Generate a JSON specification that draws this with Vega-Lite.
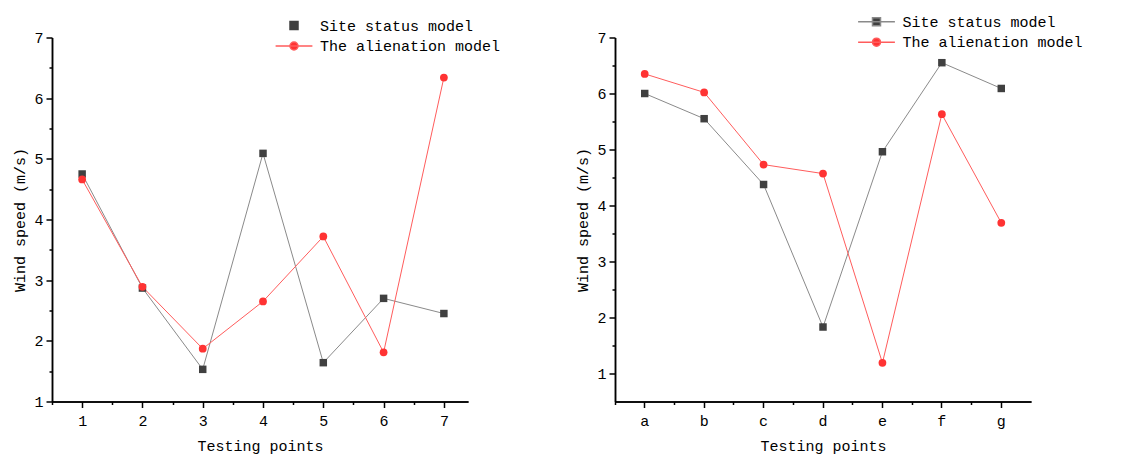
{
  "$schema": "https://vega.github.io/schema/vega-lite/v6.json",
  "autosize": {"type": "pad"},
  "padding": {"left": 12, "top": 13.5, "right": 5, "bottom": 2},
  "background": "white",
  "datasets": {
    "left": [
      {"point": 1, "series": "Site status model", "speed": 4.75},
      {"point": 2, "series": "Site status model", "speed": 2.87},
      {"point": 3, "series": "Site status model", "speed": 1.53},
      {"point": 4, "series": "Site status model", "speed": 5.09},
      {"point": 5, "series": "Site status model", "speed": 1.64},
      {"point": 6, "series": "Site status model", "speed": 2.70},
      {"point": 7, "series": "Site status model", "speed": 2.45},
      {"point": 1, "series": "The alienation model", "speed": 4.66},
      {"point": 2, "series": "The alienation model", "speed": 2.89},
      {"point": 3, "series": "The alienation model", "speed": 1.87},
      {"point": 4, "series": "The alienation model", "speed": 2.65},
      {"point": 5, "series": "The alienation model", "speed": 3.72},
      {"point": 6, "series": "The alienation model", "speed": 1.81},
      {"point": 7, "series": "The alienation model", "speed": 6.34}
    ],
    "right": [
      {"point": "a", "series": "Site status model", "speed": 6.0},
      {"point": "b", "series": "Site status model", "speed": 5.55},
      {"point": "c", "series": "Site status model", "speed": 4.375},
      {"point": "d", "series": "Site status model", "speed": 1.83},
      {"point": "e", "series": "Site status model", "speed": 4.96},
      {"point": "f", "series": "Site status model", "speed": 6.55},
      {"point": "g", "series": "Site status model", "speed": 6.09},
      {"point": "a", "series": "The alienation model", "speed": 6.35},
      {"point": "b", "series": "The alienation model", "speed": 6.02},
      {"point": "c", "series": "The alienation model", "speed": 4.73},
      {"point": "d", "series": "The alienation model", "speed": 4.57},
      {"point": "e", "series": "The alienation model", "speed": 1.19},
      {"point": "f", "series": "The alienation model", "speed": 5.63},
      {"point": "g", "series": "The alienation model", "speed": 3.69}
    ],
    "none": []
  },
  "config": {
    "font": "Liberation Mono",
    "view": {"stroke": null},
    "axis": {
      "grid": false,
      "domainColor": "black",
      "domainWidth": 1.5,
      "tickColor": "black",
      "tickWidth": 1.5,
      "labelColor": "black",
      "labelFont": "Liberation Mono",
      "labelFontSize": 15,
      "titleFont": "Liberation Mono",
      "titleFontSize": 15,
      "titleFontWeight": "normal",
      "titleColor": "black"
    },
    "legend": {
      "labelFont": "Liberation Mono",
      "labelFontSize": 15,
      "labelColor": "black",
      "labelLimit": 400,
      "title": null,
      "padding": 0
    }
  },
  "bounds": "flush",
  "spacing": 147,
  "hconcat": [
    {
      "width": 416,
      "height": 364,
      "data": {"name": "left"},
      "resolve": {"axis": {"x": "independent", "y": "independent"}},
      "layer": [
        {
          "transform": [{"filter": "datum.series == 'Site status model'"}],
          "mark": {"type": "line", "color": "#8a8a8a", "strokeWidth": 1},
          "encoding": {
            "x": {"field": "point", "type": "quantitative", "scale": {"domain": [0.5, 7.4], "nice": false, "zero": false},
              "axis": {"values": [1, 2, 3, 4, 5, 6, 7], "tickSize": 6, "labelPadding": 6, "title": "Testing points", "titlePadding": 10}},
            "y": {"field": "speed", "type": "quantitative", "scale": {"domain": [1, 7], "nice": false, "zero": false},
              "axis": {"values": [1, 2, 3, 4, 5, 6, 7], "tickSize": 6, "labelPadding": 3, "title": "Wind speed (m/s)", "titlePadding": 6}}
          }
        },
        {
          "transform": [{"filter": "datum.series == 'The alienation model'"}],
          "mark": {"type": "line", "color": "#ff5c5c", "strokeWidth": 1},
          "encoding": {
            "x": {"field": "point", "type": "quantitative",
              "axis": {"orient": "bottom", "values": [0.5, 1.5, 2.5, 3.5, 4.5, 5.5, 6.5], "tickSize": 3, "labels": false, "title": null}},
            "y": {"field": "speed", "type": "quantitative",
              "axis": {"orient": "left", "values": [1.5, 2.5, 3.5, 4.5, 5.5, 6.5], "tickSize": 3, "labels": false, "title": null}}
          }
        },
        {
          "transform": [{"filter": "datum.series == 'Site status model'"}],
          "mark": {"type": "point", "shape": "square", "filled": true, "color": "#404040", "size": 56, "opacity": 1},
          "encoding": {
            "x": {"field": "point", "type": "quantitative", "axis": null},
            "y": {"field": "speed", "type": "quantitative", "axis": null}
          }
        },
        {
          "transform": [{"filter": "datum.series == 'The alienation model'"}],
          "mark": {"type": "point", "shape": "circle", "filled": true, "color": "#ff3333", "size": 60, "opacity": 1},
          "encoding": {
            "x": {"field": "point", "type": "quantitative", "axis": null},
            "y": {"field": "speed", "type": "quantitative", "axis": null}
          }
        },
        {
          "data": {"name": "none"},
          "mark": {"type": "point", "filled": true, "opacity": 1, "strokeWidth": 1},
          "encoding": {
            "color": {"field": "series", "type": "nominal",
              "scale": {"domain": ["Site status model", "The alienation model"], "range": ["#404040", "#ff3333"]},
              "legend": {"orient": "none", "legendX": 234.5, "legendY": -19.5, "title": null, "symbolSize": 64, "labelOffset": 18.5, "rowPadding": 4.5, "labelLimit": 400}},
            "stroke": {"field": "series", "type": "nominal",
              "scale": {"domain": ["Site status model", "The alienation model"], "range": ["#404040", "#ff5c5c"]},
              "legend": {"orient": "none", "legendX": 234.5, "legendY": -19.5, "title": null, "symbolSize": 64, "labelOffset": 18.5, "rowPadding": 4.5, "labelLimit": 400}},
            "shape": {"field": "series", "type": "nominal",
              "scale": {"domain": ["Site status model", "The alienation model"], "range": ["M-1,-1H1V1H-1Z", "M-4.6,0H4.6M-1,0A1,1 0 1,0 1,0A1,1 0 1,0 -1,0Z"]},
              "legend": {"orient": "none", "legendX": 234.5, "legendY": -19.5, "title": null, "symbolSize": 64, "labelOffset": 18.5, "rowPadding": 4.5, "labelLimit": 400}}
          }
        }
      ]
    },
    {
      "width": 416,
      "height": 364,
      "data": {"name": "right"},
      "resolve": {"axis": {"x": "independent", "y": "independent"}},
      "layer": [
        {
          "transform": [{"filter": "datum.series == 'Site status model'"}],
          "mark": {"type": "line", "color": "#8a8a8a", "strokeWidth": 1},
          "encoding": {
            "x": {"field": "point", "type": "nominal", "scale": {"type": "band", "paddingInner": 0, "paddingOuter": 0},
              "axis": {"bandPosition": 0.5, "tickSize": 6, "labelPadding": 6, "labelAngle": 0, "title": "Testing points", "titlePadding": 10}},
            "y": {"field": "speed", "type": "quantitative", "scale": {"domain": [0.5, 7], "nice": false, "zero": false},
              "axis": {"values": [1, 2, 3, 4, 5, 6, 7], "tickSize": 6, "labelPadding": 3, "title": "Wind speed (m/s)", "titlePadding": 6}}
          }
        },
        {
          "transform": [{"filter": "datum.series == 'The alienation model'"}],
          "mark": {"type": "line", "color": "#ff5c5c", "strokeWidth": 1},
          "encoding": {
            "x": {"field": "point", "type": "nominal",
              "axis": {"orient": "bottom", "bandPosition": 0, "tickSize": 3, "labels": false, "title": null}},
            "y": {"field": "speed", "type": "quantitative",
              "axis": {"orient": "left", "values": [1.5, 2.5, 3.5, 4.5, 5.5, 6.5], "tickSize": 3, "labels": false, "title": null}}
          }
        },
        {
          "transform": [{"filter": "datum.series == 'Site status model'"}],
          "mark": {"type": "point", "shape": "square", "filled": true, "color": "#404040", "size": 56, "opacity": 1},
          "encoding": {
            "x": {"field": "point", "type": "nominal", "axis": null},
            "y": {"field": "speed", "type": "quantitative", "axis": null}
          }
        },
        {
          "transform": [{"filter": "datum.series == 'The alienation model'"}],
          "mark": {"type": "point", "shape": "circle", "filled": true, "color": "#ff3333", "size": 60, "opacity": 1},
          "encoding": {
            "x": {"field": "point", "type": "nominal", "axis": null},
            "y": {"field": "speed", "type": "quantitative", "axis": null}
          }
        },
        {
          "data": {"name": "none"},
          "mark": {"type": "point", "filled": true, "opacity": 1, "strokeWidth": 1},
          "encoding": {
            "color": {"field": "series", "type": "nominal",
              "scale": {"domain": ["Site status model", "The alienation model"], "range": ["#404040", "#ff3333"]},
              "legend": {"orient": "none", "legendX": 254, "legendY": -23.3, "title": null, "symbolSize": 64, "labelOffset": 18.5, "rowPadding": 4.5, "labelLimit": 400}},
            "stroke": {"field": "series", "type": "nominal",
              "scale": {"domain": ["Site status model", "The alienation model"], "range": ["#8a8a8a", "#ff5c5c"]},
              "legend": {"orient": "none", "legendX": 254, "legendY": -23.3, "title": null, "symbolSize": 64, "labelOffset": 18.5, "rowPadding": 4.5, "labelLimit": 400}},
            "shape": {"field": "series", "type": "nominal",
              "scale": {"domain": ["Site status model", "The alienation model"], "range": ["M-4.6,0H4.6M-1,-1H1V1H-1Z", "M-4.6,0H4.6M-1,0A1,1 0 1,0 1,0A1,1 0 1,0 -1,0Z"]},
              "legend": {"orient": "none", "legendX": 254, "legendY": -23.3, "title": null, "symbolSize": 64, "labelOffset": 18.5, "rowPadding": 4.5, "labelLimit": 400}}
          }
        }
      ]
    }
  ],
  "resolve": {"scale": {"color": "independent", "stroke": "independent", "shape": "independent"}}
}
